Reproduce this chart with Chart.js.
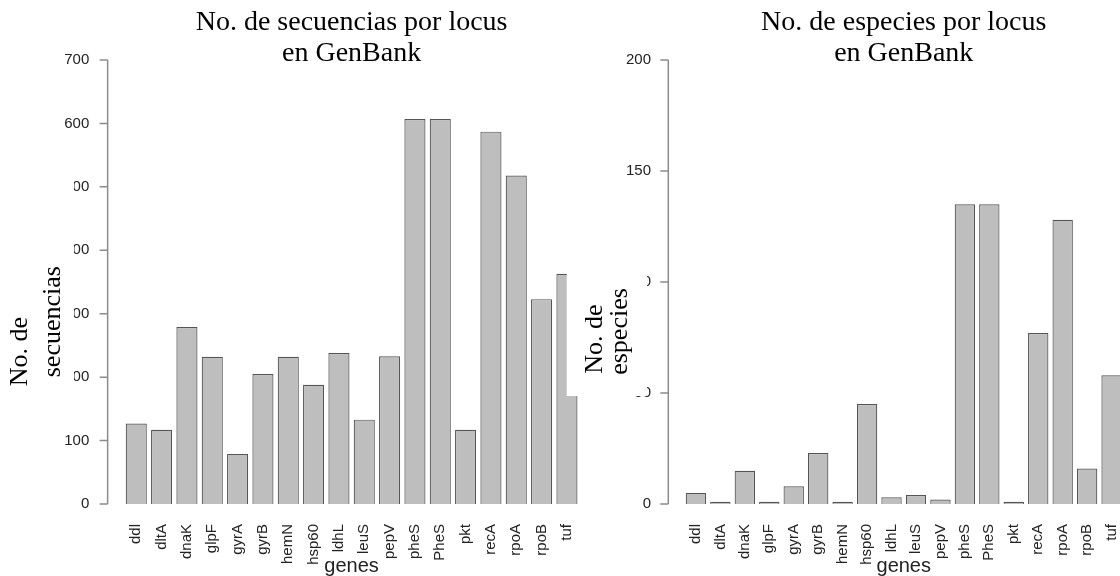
<!DOCTYPE html>
<html>
<head>
<meta charset="utf-8">
<script src="https://cdn.jsdelivr.net/npm/chart.js@4.4.1/dist/chart.umd.min.js"></script>
<style>
html, body { margin: 0; padding: 0; background: #fff; overflow: hidden; width: 1120px; height: 576px; position: relative; }
canvas { position: absolute; top: 0; }
#left { left: 0; }
#right { left: 560px; }
</style>
</head>
<body>
<canvas id="left" width="697" height="576"></canvas>
<canvas id="right" width="700" height="576"></canvas>
<script>
// genes (same order in both panels)
var genes = ["ddl", "dltA", "dnaK", "glpF", "gyrA", "gyrB", "hemN", "hsp60", "ldhL",
             "leuS", "pepV", "pheS", "PheS", "pkt", "recA", "rpoA", "rpoB", "tuf"];

// No. de secuencias por locus
var secuencias = [127, 117, 279, 232, 79, 205, 232, 188, 238, 133, 233, 607, 607, 117, 587, 518, 323, 363];

// No. de especies por locus
var especies = [5, 1, 15, 1, 8, 23, 1, 45, 3, 4, 2, 135, 135, 1, 77, 128, 16, 58];

var ticksSecuencias = [0, 100, 200, 300, 400, 500, 600, 700];
var ticksEspecies = [0, 50, 100, 150, 200];

// R style axis (line from first to last tick, set off from the bars) + white label box
var rAxis = {
    id: "rAxis",
    afterDraw: function (chart, args, opts) {
        var ctx = chart.ctx;
        var y = chart.scales.y;
        var area = chart.chartArea;
        var step = area.width / genes.length;
        var ax = area.left - 0.63 * step;
        ctx.save();
        ctx.strokeStyle = "#8c8c8c";
        ctx.lineWidth = 1.5;
        ctx.beginPath();
        ctx.moveTo(ax, y.getPixelForValue(opts.ticks[0]));
        ctx.lineTo(ax, y.getPixelForValue(opts.ticks[opts.ticks.length - 1]));
        opts.ticks.forEach(function (v) {
            var py = y.getPixelForValue(v);
            ctx.moveTo(ax - 8, py);
            ctx.lineTo(ax, py);
        });
        ctx.stroke();

        ctx.fillStyle = "#fff";
        ctx.fillRect(opts.box[0], opts.box[1], opts.box[2], opts.box[3]);
        ctx.fillStyle = "#000";
        ctx.font = '26px "Liberation Serif"';
        ctx.textAlign = "center";
        ctx.textBaseline = "alphabetic";
        opts.label.forEach(function (l) {
            ctx.save();
            ctx.translate(l.x, l.y);
            ctx.rotate(-Math.PI / 2);
            ctx.fillText(l.text, 0, 0);
            ctx.restore();
        });
        ctx.restore();
    }
};

function makeChart(id, values, yTicks, cfg) {
    return new Chart(document.getElementById(id), {
        type: "bar",
        data: {
            labels: genes,
            datasets: [{
                data: values,
                backgroundColor: "#bebebe",
                borderColor: "#555555",
                borderWidth: 1.2,
                barPercentage: 1 / 1.2,
                categoryPercentage: 1
            }]
        },
        options: {
            responsive: false,
            animation: false,
            layout: {
                autoPadding: false,
                padding: { left: 0, right: cfg.padRight, top: 0, bottom: 0 }
            },
            plugins: {
                legend: { display: false },
                tooltip: { enabled: false },
                title: {
                    display: true,
                    fullSize: false,
                    text: cfg.title,
                    color: "#000",
                    font: { family: "Liberation Serif", size: 28, weight: "normal", lineHeight: "31.6px" },
                    padding: { top: 6.5, bottom: -9.7 }
                },
                rAxis: { ticks: yTicks, box: cfg.box, label: cfg.label }
            },
            scales: {
                x: {
                    grid: { display: false, drawTicks: false },
                    border: { display: false },
                    ticks: {
                        autoSkip: false, maxRotation: 90, minRotation: 90, padding: 20,
                        color: "#222", font: { family: "Liberation Sans", size: 15 }
                    },
                    title: {
                        display: true, text: "genes", color: "#222",
                        font: { family: "Liberation Sans", size: 20 },
                        padding: { top: 0, bottom: -2 }
                    },
                    afterFit: function (s) { s.height = 72; }
                },
                y: {
                    min: yTicks[0],
                    max: yTicks[yTicks.length - 1],
                    grid: { display: false, drawTicks: false },
                    border: { display: false },
                    afterBuildTicks: function (s) {
                        s.ticks = yTicks.map(function (v) { return { value: v }; });
                    },
                    ticks: {
                        padding: cfg.tickPad,
                        color: "#222", font: { family: "Liberation Sans", size: 15 }
                    },
                    afterFit: function (s) { s.width = cfg.yWidth; }
                }
            }
        },
        plugins: [rAxis]
    });
}

makeChart("left", secuencias, ticksSecuencias, {
    title: ["No. de secuencias por locus", "en GenBank"],
    padRight: 117.4, yWidth: 123.6, tickPad: 34.3,
    box: [0, 160, 74, 235],
    label: [{ text: "No. de", x: 27, y: 351.7 }, { text: "secuencias", x: 60, y: 321.7 }]
});

makeChart("right", especies, ticksEspecies, {
    title: ["No. de especies por locus", "en GenBank"],
    padRight: 136.2, yWidth: 123.7, tickPad: 32.7,
    box: [6.7, 190, 80.3, 206],
    label: [{ text: "No. de", x: 42, y: 339 }, { text: "especies", x: 67, y: 331.5 }]
});
</script>
</body>
</html>
